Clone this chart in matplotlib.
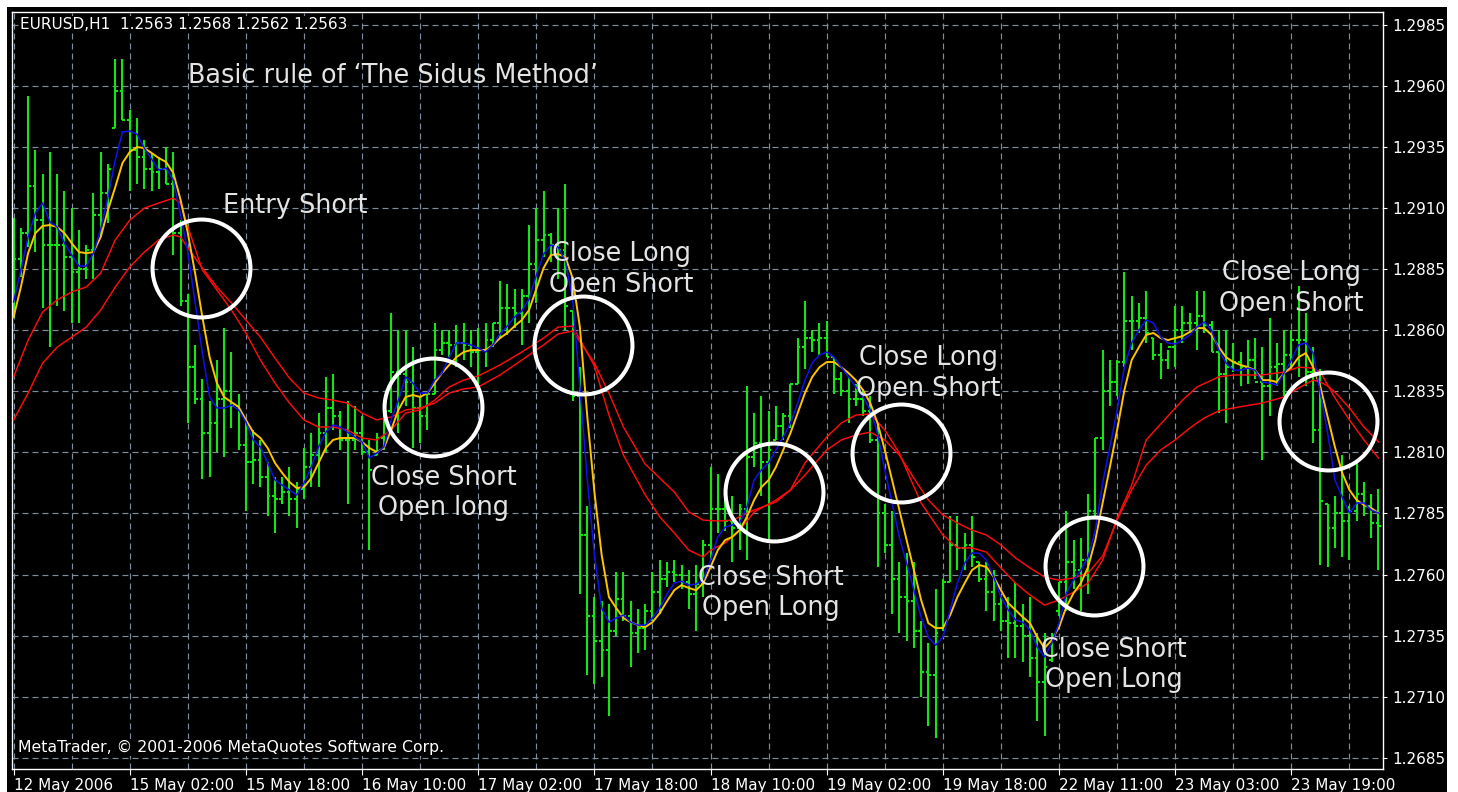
import matplotlib
matplotlib.use("Agg")
import matplotlib.pyplot as plt
from matplotlib.collections import LineCollection
from matplotlib.patches import Rectangle
import numpy as np

plt.rcParams['font.family'] = ['DejaVu Sans']
plt.rcParams['lines.scale_dashes'] = False

# ---------------- text ----------------
symbol_header = "EURUSD,H1  1.2563 1.2568 1.2562 1.2563"
chart_title = "Basic rule of \u2018The Sidus Method\u2019"
copyright_text = "MetaTrader, \u00a9 2001-2006 MetaQuotes Software Corp."

time_labels = ["12 May 2006", "15 May 02:00", "15 May 18:00", "16 May 10:00",
               "17 May 02:00", "17 May 18:00", "18 May 10:00", "19 May 02:00",
               "19 May 18:00", "22 May 11:00", "23 May 03:00", "23 May 19:00"]
price_ticks = [1.2685, 1.2710, 1.2735, 1.2760, 1.2785, 1.2810, 1.2835,
               1.2860, 1.2885, 1.2910, 1.2935, 1.2960, 1.2985]

# ---------------- OHLC (H1 bars) ----------------
highs = [1.2906, 1.2902, 1.2956, 1.2934, 1.2924, 1.2933, 1.2924, 1.2917, 1.2910, 1.2901,
         1.2895, 1.2916, 1.2933, 1.2928, 1.2971, 1.2971, 1.2950, 1.2947, 1.2938, 1.2932,
         1.2931, 1.2935, 1.2933, 1.2905, 1.2875, 1.2854, 1.2840, 1.2831, 1.2848, 1.2861,
         1.2851, 1.2834, 1.2823, 1.2819, 1.2815, 1.2806, 1.2800, 1.2800, 1.2804, 1.2798,
         1.2812, 1.2818, 1.2826, 1.2841, 1.2842, 1.2827, 1.2831, 1.2829, 1.2825, 1.2815,
         1.2818, 1.2827, 1.2867, 1.2860, 1.2860, 1.2853, 1.2833, 1.2834, 1.2863, 1.2860,
         1.2860, 1.2862, 1.2863, 1.2860, 1.2861, 1.2863, 1.2863, 1.2880, 1.2879, 1.2877,
         1.2877, 1.2903, 1.2910, 1.2917, 1.2900, 1.2910, 1.2920, 1.2868, 1.2845, 1.2788,
         1.2751, 1.2749, 1.2748, 1.2761, 1.2761, 1.2749, 1.2746, 1.2748, 1.2761, 1.2766,
         1.2765, 1.2766, 1.2764, 1.2762, 1.2764, 1.2774, 1.2804, 1.2801, 1.2793, 1.2792,
         1.2789, 1.2837, 1.2826, 1.2833, 1.2827, 1.2829, 1.2826, 1.2838, 1.2857, 1.2872,
         1.2860, 1.2863, 1.2864, 1.2849, 1.2843, 1.2841, 1.2838, 1.2836, 1.2833, 1.2822,
         1.2789, 1.2786, 1.2765, 1.2769, 1.2765, 1.2741, 1.2732, 1.2754, 1.2758, 1.2784,
         1.2784, 1.2777, 1.2784, 1.2765, 1.2765, 1.2762, 1.2751, 1.2751, 1.2757, 1.2748,
         1.2751, 1.2736, 1.2736, 1.2736, 1.2757, 1.2786, 1.2774, 1.2775, 1.2793, 1.2816,
         1.2852, 1.2848, 1.2848, 1.2884, 1.2874, 1.2871, 1.2876, 1.2857, 1.2855, 1.2852,
         1.2870, 1.2870, 1.2867, 1.2876, 1.2876, 1.2864, 1.2860, 1.2860, 1.2855, 1.2851,
         1.2856, 1.2857, 1.2853, 1.2865, 1.2855, 1.2860, 1.2860, 1.2878, 1.2867, 1.2853,
         1.2844, 1.2789, 1.2792, 1.2809, 1.2788, 1.2807, 1.2798, 1.2793, 1.2795]

lows = [1.2865, 1.2882, 1.2894, 1.2892, 1.2869, 1.2853, 1.2870, 1.2868, 1.2863, 1.2863,
        1.2881, 1.2881, 1.2898, 1.2904, 1.2943, 1.2946, 1.2917, 1.2920, 1.2918, 1.2917,
        1.2918, 1.2920, 1.2891, 1.2870, 1.2822, 1.2830, 1.2799, 1.2800, 1.2810, 1.2808,
        1.2820, 1.2811, 1.2786, 1.2797, 1.2796, 1.2784, 1.2777, 1.2789, 1.2784, 1.2779,
        1.2791, 1.2796, 1.2796, 1.2810, 1.2819, 1.2811, 1.2789, 1.2811, 1.2809, 1.2770,
        1.2809, 1.2811, 1.2826, 1.2818, 1.2829, 1.2812, 1.2814, 1.2819, 1.2834, 1.2850,
        1.2849, 1.2845, 1.2848, 1.2845, 1.2837, 1.2845, 1.2853, 1.2857, 1.2858, 1.2861,
        1.2854, 1.2863, 1.2871, 1.2890, 1.2888, 1.2881, 1.2860, 1.2831, 1.2752, 1.2719,
        1.2715, 1.2718, 1.2702, 1.2735, 1.2741, 1.2722, 1.2728, 1.2729, 1.2741, 1.2744,
        1.2755, 1.2757, 1.2754, 1.2746, 1.2737, 1.2751, 1.2766, 1.2777, 1.2778, 1.2765,
        1.2770, 1.2766, 1.2804, 1.2792, 1.2774, 1.2815, 1.2815, 1.2820, 1.2838, 1.2844,
        1.2851, 1.2850, 1.2849, 1.2834, 1.2833, 1.2822, 1.2829, 1.2825, 1.2814, 1.2763,
        1.2769, 1.2744, 1.2736, 1.2733, 1.2730, 1.2710, 1.2698, 1.2693, 1.2737, 1.2757,
        1.2762, 1.2762, 1.2763, 1.2757, 1.2745, 1.2741, 1.2737, 1.2726, 1.2726, 1.2724,
        1.2718, 1.2700, 1.2694, 1.2724, 1.2743, 1.2745, 1.2754, 1.2745, 1.2752, 1.2784,
        1.2811, 1.2829, 1.2833, 1.2845, 1.2852, 1.2859, 1.2855, 1.2848, 1.2840, 1.2844,
        1.2845, 1.2855, 1.2859, 1.2852, 1.2859, 1.2851, 1.2826, 1.2822, 1.2843, 1.2837,
        1.2838, 1.2840, 1.2807, 1.2825, 1.2837, 1.2833, 1.2845, 1.2841, 1.2837, 1.2814,
        1.2764, 1.2763, 1.2771, 1.2767, 1.2766, 1.2782, 1.2784, 1.2775, 1.2762]

opens = [1.2872, 1.2889, 1.2900, 1.2919, 1.2905, 1.2895, 1.2895, 1.2895, 1.2890, 1.2884,
         1.2885, 1.2893, 1.2907, 1.2916, 1.2943, 1.2958, 1.2946, 1.2934, 1.2931, 1.2926,
         1.2925, 1.2926, 1.2920, 1.2900, 1.2872, 1.2845, 1.2832, 1.2818, 1.2822, 1.2832,
         1.2835, 1.2829, 1.2813, 1.2806, 1.2807, 1.2800, 1.2792, 1.2791, 1.2794, 1.2791,
         1.2795, 1.2804, 1.2809, 1.2818, 1.2828, 1.2825, 1.2815, 1.2815, 1.2818, 1.2810,
         1.2809, 1.2816, 1.2827, 1.2843, 1.2842, 1.2839, 1.2828, 1.2825, 1.2834, 1.2852,
         1.2855, 1.2854, 1.2855, 1.2854, 1.2851, 1.2852, 1.2856, 1.2863, 1.2869, 1.2869,
         1.2867, 1.2874, 1.2887, 1.2897, 1.2899, 1.2895, 1.2893, 1.2868, 1.2833, 1.2776,
         1.2743, 1.2733, 1.2729, 1.2737, 1.2750, 1.2743, 1.2736, 1.2738, 1.2745, 1.2753,
         1.2758, 1.2761, 1.2760, 1.2757, 1.2752, 1.2756, 1.2772, 1.2787, 1.2787, 1.2782,
         1.2779, 1.2787, 1.2808, 1.2814, 1.2806, 1.2815, 1.2821, 1.2825, 1.2838, 1.2853,
         1.2857, 1.2856, 1.2857, 1.2849, 1.2840, 1.2835, 1.2832, 1.2832, 1.2827, 1.2815,
         1.2785, 1.2772, 1.2758, 1.2751, 1.2749, 1.2737, 1.2720, 1.2719, 1.2738, 1.2757,
         1.2772, 1.2771, 1.2772, 1.2765, 1.2758, 1.2753, 1.2748, 1.2741, 1.2740, 1.2739,
         1.2735, 1.2726, 1.2716, 1.2725, 1.2745, 1.2757, 1.2765, 1.2762, 1.2766, 1.2786,
         1.2816, 1.2835, 1.2839, 1.2847, 1.2864, 1.2864, 1.2865, 1.2857, 1.2850, 1.2848,
         1.2853, 1.2860, 1.2863, 1.2863, 1.2866, 1.2862, 1.2851, 1.2842, 1.2845, 1.2847,
         1.2845, 1.2848, 1.2839, 1.2837, 1.2845, 1.2846, 1.2850, 1.2856, 1.2856, 1.2843,
         1.2819, 1.2789, 1.2779, 1.2785, 1.2782, 1.2786, 1.2793, 1.2788, 1.2781]

closes = [1.2889, 1.2900, 1.2919, 1.2905, 1.2895, 1.2895, 1.2895, 1.2890, 1.2884, 1.2885,
          1.2893, 1.2907, 1.2916, 1.2926, 1.2958, 1.2946, 1.2934, 1.2931, 1.2926, 1.2925,
          1.2926, 1.2920, 1.2900, 1.2872, 1.2845, 1.2832, 1.2818, 1.2822, 1.2832, 1.2835,
          1.2829, 1.2813, 1.2806, 1.2807, 1.2800, 1.2792, 1.2791, 1.2794, 1.2791, 1.2795,
          1.2804, 1.2809, 1.2818, 1.2828, 1.2825, 1.2815, 1.2815, 1.2818, 1.2810, 1.2803,
          1.2816, 1.2827, 1.2843, 1.2842, 1.2839, 1.2828, 1.2825, 1.2834, 1.2852, 1.2855,
          1.2854, 1.2855, 1.2854, 1.2851, 1.2852, 1.2856, 1.2863, 1.2869, 1.2869, 1.2867,
          1.2874, 1.2887, 1.2897, 1.2899, 1.2895, 1.2893, 1.2870, 1.2833, 1.2776, 1.2743,
          1.2733, 1.2729, 1.2737, 1.2750, 1.2743, 1.2736, 1.2738, 1.2745, 1.2753, 1.2758,
          1.2761, 1.2760, 1.2757, 1.2752, 1.2756, 1.2772, 1.2787, 1.2787, 1.2782, 1.2779,
          1.2787, 1.2808, 1.2814, 1.2806, 1.2811, 1.2821, 1.2825, 1.2838, 1.2853, 1.2857,
          1.2856, 1.2857, 1.2849, 1.2840, 1.2835, 1.2832, 1.2832, 1.2827, 1.2815, 1.2785,
          1.2772, 1.2758, 1.2751, 1.2749, 1.2737, 1.2720, 1.2719, 1.2736, 1.2757, 1.2772,
          1.2771, 1.2772, 1.2767, 1.2758, 1.2753, 1.2748, 1.2741, 1.2740, 1.2739, 1.2735,
          1.2726, 1.2716, 1.2722, 1.2735, 1.2757, 1.2765, 1.2762, 1.2766, 1.2786, 1.2816,
          1.2835, 1.2839, 1.2847, 1.2864, 1.2864, 1.2865, 1.2859, 1.2850, 1.2848, 1.2853,
          1.2860, 1.2863, 1.2863, 1.2866, 1.2862, 1.2851, 1.2842, 1.2845, 1.2847, 1.2845,
          1.2848, 1.2839, 1.2837, 1.2845, 1.2846, 1.2850, 1.2856, 1.2856, 1.2843, 1.2819,
          1.2790, 1.2779, 1.2785, 1.2782, 1.2786, 1.2793, 1.2788, 1.2781, 1.2780]

# ---------------- indicator lines ----------------
ma_blue = [1.28716, 1.28847, 1.28982, 1.29080, 1.29121, 1.29043, 1.29023, 1.28957, 1.28908, 1.28863,
           1.28863, 1.28916, 1.29014, 1.29146, 1.29297, 1.29412, 1.29416, 1.29403, 1.29346, 1.29301,
           1.29256, 1.29264, 1.29215, 1.29072, 1.28920, 1.28712, 1.28507, 1.28327, 1.28282, 1.28282,
           1.28294, 1.28274, 1.28224, 1.28151, 1.28122, 1.28057, 1.27987, 1.27966, 1.27946, 1.27926,
           1.27975, 1.28040, 1.28122, 1.28183, 1.28212, 1.28204, 1.28183, 1.28163, 1.28143, 1.28077,
           1.28097, 1.28122, 1.28233, 1.28314, 1.28409, 1.28384, 1.28343, 1.28343, 1.28396, 1.28425,
           1.28490, 1.28548, 1.28548, 1.28540, 1.28527, 1.28511, 1.28540, 1.28585, 1.28617, 1.28654,
           1.28679, 1.28728, 1.28826, 1.28912, 1.28949, 1.28941, 1.28883, 1.28728, 1.28368, 1.27995,
           1.27680, 1.27463, 1.27405, 1.27422, 1.27434, 1.27405, 1.27393, 1.27393, 1.27422, 1.27463,
           1.27520, 1.27565, 1.27573, 1.27557, 1.27561, 1.27577, 1.27659, 1.27754, 1.27794, 1.27803,
           1.27811, 1.27876, 1.27987, 1.28028, 1.28057, 1.28110, 1.28163, 1.28220, 1.28302, 1.28396,
           1.28466, 1.28499, 1.28511, 1.28490, 1.28449, 1.28409, 1.28368, 1.28327, 1.28274, 1.28179,
           1.28028, 1.27893, 1.27754, 1.27647, 1.27536, 1.27426, 1.27344, 1.27311, 1.27344, 1.27455,
           1.27565, 1.27647, 1.27688, 1.27688, 1.27659, 1.27590, 1.27508, 1.27455, 1.27414, 1.27405,
           1.27373, 1.27303, 1.27262, 1.27320, 1.27401, 1.27524, 1.27577, 1.27618, 1.27672, 1.27782,
           1.27975, 1.28122, 1.28274, 1.28449, 1.28548, 1.28601, 1.28642, 1.28630, 1.28572, 1.28548,
           1.28544, 1.28560, 1.28581, 1.28613, 1.28634, 1.28601, 1.28519, 1.28466, 1.28437, 1.28437,
           1.28445, 1.28437, 1.28388, 1.28384, 1.28376, 1.28425, 1.28478, 1.28540, 1.28548, 1.28507,
           1.28343, 1.28179, 1.27987, 1.27917, 1.27852, 1.27893, 1.27893, 1.27864, 1.27852]

ma_gold = [1.28654, 1.28777, 1.28916, 1.28998, 1.29027, 1.29031, 1.29023, 1.28998, 1.28957, 1.28920,
           1.28916, 1.28920, 1.28982, 1.29092, 1.29186, 1.29285, 1.29330, 1.29350, 1.29346, 1.29326,
           1.29305, 1.29289, 1.29244, 1.29134, 1.28998, 1.28834, 1.28654, 1.28490, 1.28384, 1.28327,
           1.28306, 1.28286, 1.28233, 1.28183, 1.28159, 1.28118, 1.28057, 1.28016, 1.27979, 1.27954,
           1.27958, 1.27995, 1.28057, 1.28118, 1.28151, 1.28159, 1.28159, 1.28159, 1.28143, 1.28118,
           1.28102, 1.28118, 1.28192, 1.28274, 1.28327, 1.28335, 1.28327, 1.28343, 1.28384, 1.28425,
           1.28458, 1.28490, 1.28511, 1.28519, 1.28519, 1.28519, 1.28540, 1.28568, 1.28589, 1.28617,
           1.28642, 1.28683, 1.28769, 1.28855, 1.28908, 1.28912, 1.28900, 1.28814, 1.28613, 1.28253,
           1.27938, 1.27680, 1.27508, 1.27463, 1.27422, 1.27405, 1.27393, 1.27385, 1.27405, 1.27442,
           1.27491, 1.27536, 1.27557, 1.27545, 1.27536, 1.27565, 1.27631, 1.27700, 1.27741, 1.27754,
           1.27782, 1.27836, 1.27905, 1.27958, 1.27987, 1.28040, 1.28110, 1.28179, 1.28261, 1.28343,
           1.28409, 1.28449, 1.28470, 1.28470, 1.28449, 1.28425, 1.28396, 1.28355, 1.28302, 1.28220,
           1.28110, 1.27987, 1.27864, 1.27741, 1.27618, 1.27496, 1.27401, 1.27381, 1.27381, 1.27434,
           1.27508, 1.27565, 1.27618, 1.27639, 1.27631, 1.27590, 1.27536, 1.27483, 1.27455, 1.27426,
           1.27401, 1.27344, 1.27299, 1.27332, 1.27385, 1.27467, 1.27524, 1.27565, 1.27631, 1.27741,
           1.27893, 1.28040, 1.28192, 1.28355, 1.28478, 1.28531, 1.28581, 1.28589, 1.28568, 1.28560,
           1.28568, 1.28576, 1.28593, 1.28609, 1.28609, 1.28581, 1.28531, 1.28490, 1.28470, 1.28458,
           1.28449, 1.28437, 1.28396, 1.28396, 1.28388, 1.28425, 1.28449, 1.28490, 1.28507, 1.28449,
           1.28368, 1.28245, 1.28122, 1.28016, 1.27946, 1.27905, 1.27885, 1.27872, 1.27852]

red_fast_bars = [0, 2, 4, 6, 8, 10, 12, 14, 16, 18, 20, 22, 23, 24, 26, 28, 30, 32, 34, 36,
                 38, 40, 42, 44, 46, 48, 50, 52, 54, 56, 58, 60, 62, 64, 67, 70, 73, 75, 77, 80,
                 82, 84, 87, 89, 91, 93, 95, 96, 98, 100, 102, 105, 107, 109, 112, 114, 116, 118, 120, 122,
                 123, 125, 128, 130, 132, 134, 136, 138, 140, 142, 144, 146, 148, 150, 152, 154, 156, 159, 161, 163,
                 166, 168, 172, 175, 177, 179, 180, 181, 182, 184, 186, 188]
red_fast = [1.28409, 1.28560, 1.28675, 1.28724, 1.28757, 1.28777, 1.28834, 1.28970, 1.29051, 1.29100,
            1.29121, 1.29141, 1.29121, 1.29023, 1.28847, 1.28765, 1.28683, 1.28589, 1.28478, 1.28384,
            1.28302, 1.28233, 1.28204, 1.28204, 1.28192, 1.28159, 1.28151, 1.28192, 1.28261, 1.28274,
            1.28314, 1.28368, 1.28396, 1.28413, 1.28458, 1.28511, 1.28568, 1.28613, 1.28617, 1.28454,
            1.28253, 1.28089, 1.27926, 1.27836, 1.27770, 1.27700, 1.27672, 1.27700, 1.27729, 1.27782,
            1.27856, 1.27905, 1.27946, 1.28057, 1.28163, 1.28220, 1.28253, 1.28257, 1.28192, 1.28097,
            1.28028, 1.27893, 1.27762, 1.27709, 1.27709, 1.27692, 1.27627, 1.27565, 1.27516, 1.27475,
            1.27496, 1.27528, 1.27565, 1.27659, 1.27831, 1.27966, 1.28151, 1.28249, 1.28314, 1.28368,
            1.28409, 1.28417, 1.28417, 1.28429, 1.28449, 1.28445, 1.28429, 1.28376, 1.28323, 1.28233,
            1.28151, 1.28077]

red_slow_bars = [0, 2, 4, 6, 8, 10, 12, 14, 16, 18, 20, 22, 23, 24, 26, 28, 30, 32, 34, 36,
                 38, 40, 42, 44, 46, 48, 50, 52, 54, 56, 58, 60, 62, 64, 67, 70, 73, 75, 77, 80,
                 82, 84, 87, 89, 91, 93, 95, 97, 99, 102, 105, 107, 109, 112, 114, 116, 118, 120, 122, 124,
                 126, 128, 130, 132, 134, 136, 138, 140, 142, 144, 146, 148, 150, 152, 154, 156, 158, 160, 162, 164,
                 166, 168, 172, 175, 177, 179, 180, 181, 182, 184, 186, 188]
red_slow = [1.28233, 1.28343, 1.28466, 1.28531, 1.28572, 1.28613, 1.28683, 1.28777, 1.28859, 1.28920,
            1.28970, 1.28990, 1.28982, 1.28937, 1.28855, 1.28777, 1.28712, 1.28642, 1.28572, 1.28486,
            1.28404, 1.28343, 1.28323, 1.28314, 1.28302, 1.28261, 1.28233, 1.28245, 1.28274, 1.28282,
            1.28302, 1.28343, 1.28360, 1.28368, 1.28417, 1.28478, 1.28540, 1.28585, 1.28597, 1.28466,
            1.28343, 1.28204, 1.28052, 1.27995, 1.27938, 1.27856, 1.27823, 1.27819, 1.27823, 1.27864,
            1.27897, 1.27946, 1.28007, 1.28110, 1.28151, 1.28171, 1.28183, 1.28151, 1.28089, 1.27995,
            1.27905, 1.27844, 1.27811, 1.27782, 1.27762, 1.27721, 1.27668, 1.27627, 1.27590, 1.27577,
            1.27586, 1.27606, 1.27676, 1.27823, 1.27946, 1.28048, 1.28110, 1.28151, 1.28200, 1.28241,
            1.28270, 1.28282, 1.28302, 1.28327, 1.28364, 1.28396, 1.28388, 1.28372, 1.28347, 1.28282,
            1.28204, 1.28143]

# ---------------- annotations ----------------
circle_bars = [25.8, 57.8, 78.4, 104.7, 122.2, 148.8, 181.0]
circle_prices = [1.28855, 1.28286, 1.28540, 1.27938, 1.28097, 1.27635, 1.28228]

note_lines = ["Entry Short",
              "Close Long", "Open Short",
              "Close Short", "Open long",
              "Close Short", "Open Long",
              "Close Long", "Open Short",
              "Close Short", "Open Long",
              "Close Long", "Open Short"]
note_bars = [38.8, 83.7, 83.7, 59.2, 59.2, 104.3, 104.3, 126.0, 126.0, 151.6, 151.6, 176.0, 176.0]
note_prices = [1.29081, 1.28882, 1.28756, 1.27966, 1.27844, 1.27557, 1.27434,
               1.28458, 1.28331, 1.27261, 1.27141, 1.28806, 1.28680]
title_bar, title_price = 24.0, 1.29611

# ---------------- figure ----------------
W, H = 1458, 792
fig = plt.figure(figsize=(W / 100, H / 100), dpi=100, facecolor="white")
fig.add_artist(Rectangle((7 / W, 0), (1447 - 7) / W, (H - 7) / H,
                         transform=fig.transFigure, facecolor="black",
                         edgecolor="none", zorder=-5))

ax = fig.add_axes([12 / W, 1 - 769 / H, (1383 - 12) / W, (769 - 12) / H])
ax.set_facecolor("black")

n = len(highs)
idx = np.arange(n)
tick_w = 0.38
segs = []
for i in range(n):
    segs.append([(idx[i], lows[i]), (idx[i], highs[i])])
    segs.append([(idx[i] - tick_w, opens[i]), (idx[i], opens[i])])
    segs.append([(idx[i], closes[i]), (idx[i] + tick_w, closes[i])])
ax.add_collection(LineCollection(segs, colors="#14e614", linewidths=1.5,
                                 capstyle="butt", zorder=2))

ax.plot(red_slow_bars, red_slow, color="#ff0c0c", lw=1.05, zorder=3)
ax.plot(red_fast_bars, red_fast, color="#ff0c0c", lw=1.05, zorder=3)
ax.plot(idx, ma_gold, color="#ffc400", lw=1.4, zorder=4)
ax.plot(idx, ma_blue, color="#1010f0", lw=1.1, zorder=4)

ax.plot(circle_bars, circle_prices, linestyle="none", marker="o", markersize=70.5,
        markerfacecolor="none", markeredgecolor="white", markeredgewidth=2.9, zorder=6)

txt_color = "#e4e4e4"
for s, xb, yp in zip(note_lines, note_bars, note_prices):
    ax.text(xb, yp, s, color=txt_color, fontsize=18.4, ha="center", va="baseline", zorder=7)
ax.text(title_bar, title_price, chart_title, color=txt_color, fontsize=18.4,
        ha="left", va="baseline", zorder=7)

ax.text(8 / 1371, 1 - 5 / 757, symbol_header, transform=ax.transAxes, color="white",
        fontsize=11, ha="left", va="top", zorder=8,
        bbox=dict(facecolor="black", edgecolor="none", pad=0.5))
ax.text(6 / 1371, 17 / 757, copyright_text, transform=ax.transAxes, color="white",
        fontsize=11.3, ha="left", va="baseline", zorder=8,
        bbox=dict(facecolor="black", edgecolor="none", pad=0.5))

# axes, ticks and grid
ax.set_xlim(-0.22, 188.62)
ax.set_ylim(1.26804, 1.29903)
major_x = list(range(0, 16 * len(time_labels), 16))
ax.set_xticks(major_x)
ax.set_xticklabels(time_labels)
ax.set_xticks(list(range(8, 189, 16)), minor=True)
for lab in ax.get_xticklabels():
    lab.set_ha("left")
ax.yaxis.tick_right()
ax.set_yticks(price_ticks)
ax.set_yticklabels(["%.4f" % p for p in price_ticks])

ax.tick_params(axis="x", which="major", colors="white", labelcolor="white",
               length=4.5, width=0.8, pad=2, labelsize=11, direction="out")
ax.tick_params(axis="x", which="minor", length=0)
ax.tick_params(axis="y", colors="white", labelcolor="white", length=3,
               width=0.8, pad=4, labelsize=11, direction="out")

grid_style = dict(color="#7f8c9c", linestyle=(0, (4.3, 2.9)), linewidth=0.85)
ax.grid(True, which="major", axis="both", **grid_style)
ax.grid(True, which="minor", axis="x", **grid_style)
ax.set_axisbelow(True)

for sp in ax.spines.values():
    sp.set_color("white")
    sp.set_linewidth(1.0)

fig.savefig("out.png", dpi=100, facecolor=fig.get_facecolor())
